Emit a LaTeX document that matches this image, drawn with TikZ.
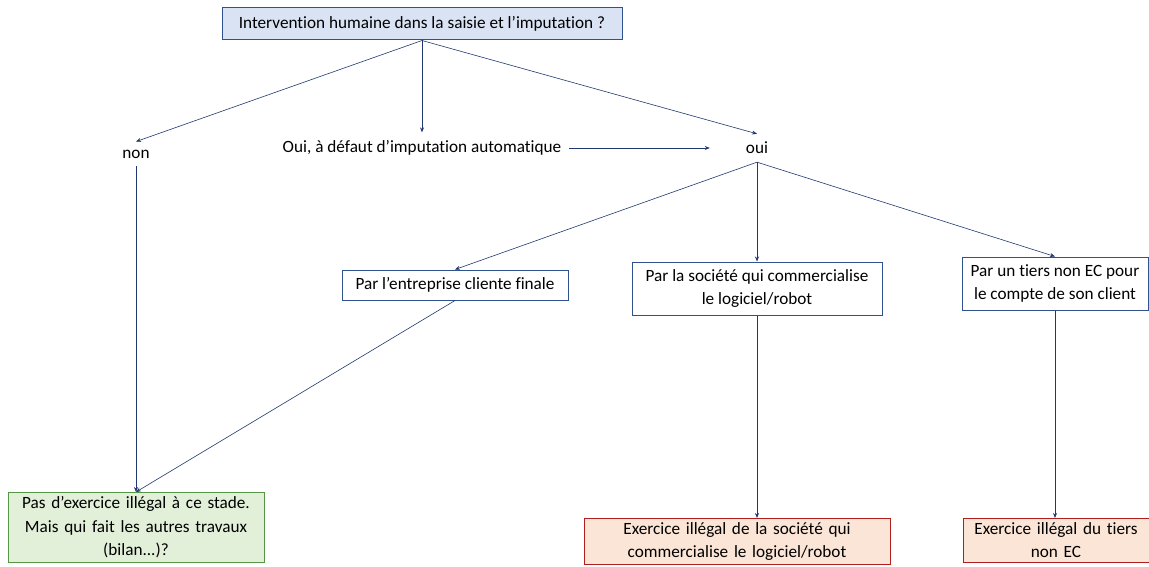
\documentclass[tikz,border=0pt]{standalone}
\usepackage{fontspec}
\setmainfont{Carlito}[Ligatures=NoCommon]
\usetikzlibrary{arrows.meta}
\definecolor{arrowblue}{RGB}{31,56,110}
\definecolor{boxblue}{RGB}{47,82,143}
\definecolor{fillblue}{RGB}{218,227,243}
\definecolor{boxgreen}{RGB}{84,150,70}
\definecolor{fillgreen}{RGB}{226,240,217}
\definecolor{boxred}{RGB}{176,30,30}
\definecolor{fillred}{RGB}{251,229,214}

\begin{document}
\begin{tikzpicture}[x=1pt,y=-1pt]
	\tikzstyle{every node} = [font=\fontsize{17.2}{23.5}\selectfont]
	\tikzstyle{label} = [inner sep=8pt]
	\tikzstyle{box} = [draw=boxblue,fill=white,line width=1pt,align=center,inner xsep=4pt,inner ysep=4pt]
	\tikzstyle{qbox} = [box,fill=fillblue]
	\tikzstyle{okbox} = [box,draw=boxgreen,fill=fillgreen,anchor=north]
	\tikzstyle{badbox} = [box,draw=boxred,fill=fillred,anchor=north]
	\tikzstyle{edge} = [-{Stealth[length=5pt,width=4pt]},draw=arrowblue,line width=0.6pt]
	\useasboundingbox (0,0) rectangle (1149,567);
	\clip (0,0) rectangle (1149,567);
	% question
	\node[qbox,minimum width=400pt,minimum height=32pt] (q) at (422,24) {Intervention humaine dans la saisie et l'imputation ?};
	\node[label] (non) at (136,154) {non};
	\node[label] (auto) at (422,148) {Oui, à défaut d'imputation automatique};
	\node[label] (oui) at (757,148) {oui};
	% who
	\node[box,minimum width=226pt,minimum height=30pt] (ent) at (455,285) {Par l'entreprise cliente finale};
	\node[box,minimum width=250pt,minimum height=53pt] (soc) at (757,288.5) {Par la société qui commercialise\\le logiciel/robot};
	\node[box,minimum width=186pt,minimum height=53pt] (tiers) at (1055,283.5) {Par un tiers non EC pour\\le compte de son client};
	% outcomes
	\node[okbox,text width=248pt] (legal) at (136,492) {Pas d'exercice illégal à ce stade.\\Mais qui fait les autres travaux\\(bilan...)?};
	\node[badbox,text width=298pt] (illsoc) at (737,518) {Exercice illégal de la société qui\\commercialise le logiciel/robot};
	\node[badbox,text width=178pt] (illtiers) at (1056,518) {Exercice illégal du tiers\\non EC};
	% arrows
	\draw[edge] (q.south) -- (non.north);
	\draw[edge] (q.south) -- (auto.north);
	\draw[edge] (q.south) -- (oui.north);
	\draw[edge,shorten >=28pt] (auto.east) -- (oui.west);
	\draw[edge] (oui.south) -- (ent.north);
	\draw[edge] (oui.south) -- (soc.north);
	\draw[edge] (oui.south) -- (tiers.north);
	\draw[edge] (non.south) -- (legal.north);
	\draw[edge] (ent.south) -- (legal.north);
	\draw[edge] (soc.south) -- (soc.south |- illsoc.north);
	\draw[edge] (tiers.south) -- (tiers.south |- illtiers.north);
\end{tikzpicture}
\end{document}
